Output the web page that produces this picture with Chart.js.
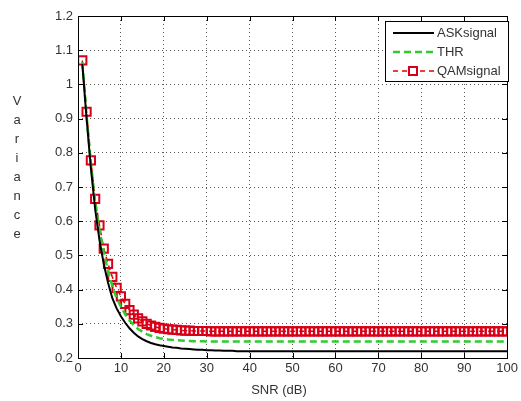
<!DOCTYPE html>
<html>
<head>
<meta charset="utf-8">
<script src="https://cdn.jsdelivr.net/npm/chart.js@4/dist/chart.umd.min.js"></script>
<style>
  html, body { margin: 0; padding: 0; background: #fff; }
  #wrap { width: 521px; height: 401px; position: relative; }
</style>
</head>
<body>
<div id="wrap"><canvas id="varChart"></canvas></div>
<script>
// SNR in dB, one sample per dB
const snr = [
    1, 2, 3, 4, 5, 6, 7, 8, 9, 10,
    11, 12, 13, 14, 15, 16, 17, 18, 19, 20,
    21, 22, 23, 24, 25, 26, 27, 28, 29, 30,
    31, 32, 33, 34, 35, 36, 37, 38, 39, 40,
    41, 42, 43, 44, 45, 46, 47, 48, 49, 50,
    51, 52, 53, 54, 55, 56, 57, 58, 59, 60,
    61, 62, 63, 64, 65, 66, 67, 68, 69, 70,
    71, 72, 73, 74, 75, 76, 77, 78, 79, 80,
    81, 82, 83, 84, 85, 86, 87, 88, 89, 90,
    91, 92, 93, 94, 95, 96, 97, 98, 99, 100
];

const askSignal = [
    1.06, 0.90, 0.755, 0.635, 0.545, 0.475, 0.42, 0.375, 0.345, 0.322,
    0.303, 0.287, 0.274, 0.263, 0.255, 0.249, 0.244, 0.24, 0.237, 0.235,
    0.233, 0.231, 0.23, 0.228, 0.227, 0.226, 0.225, 0.224, 0.224, 0.223,
    0.223, 0.222, 0.222, 0.221, 0.221, 0.221, 0.22, 0.22, 0.22, 0.22,
    0.22, 0.22, 0.22, 0.22, 0.22, 0.22, 0.22, 0.22, 0.22, 0.22,
    0.22, 0.22, 0.22, 0.22, 0.22, 0.22, 0.22, 0.22, 0.22, 0.22,
    0.22, 0.22, 0.22, 0.22, 0.22, 0.22, 0.22, 0.22, 0.22, 0.22,
    0.22, 0.22, 0.22, 0.22, 0.22, 0.22, 0.22, 0.22, 0.22, 0.22,
    0.22, 0.22, 0.22, 0.22, 0.22, 0.22, 0.22, 0.22, 0.22, 0.22,
    0.22, 0.22, 0.22, 0.22, 0.22, 0.22, 0.22, 0.22, 0.22, 0.22
];

const thr = [
    1.065, 0.91, 0.77, 0.655, 0.575, 0.51, 0.455, 0.41, 0.375, 0.35,
    0.328, 0.31, 0.296, 0.285, 0.277, 0.27, 0.265, 0.261, 0.258, 0.256,
    0.254, 0.253, 0.252, 0.251, 0.25, 0.25, 0.249, 0.249, 0.249, 0.248,
    0.248, 0.248, 0.248, 0.248, 0.248, 0.248, 0.248, 0.248, 0.248, 0.248,
    0.248, 0.248, 0.248, 0.248, 0.248, 0.248, 0.248, 0.248, 0.248, 0.248,
    0.248, 0.248, 0.248, 0.248, 0.248, 0.248, 0.248, 0.248, 0.248, 0.248,
    0.248, 0.248, 0.248, 0.248, 0.248, 0.248, 0.248, 0.248, 0.248, 0.248,
    0.248, 0.248, 0.248, 0.248, 0.248, 0.248, 0.248, 0.248, 0.248, 0.248,
    0.248, 0.248, 0.248, 0.248, 0.248, 0.248, 0.248, 0.248, 0.248, 0.248,
    0.248, 0.248, 0.248, 0.248, 0.248, 0.248, 0.248, 0.248, 0.248, 0.248
];

const qamSignal = [
    1.07, 0.92, 0.778, 0.665, 0.588, 0.52, 0.475, 0.437, 0.405, 0.38,
    0.358, 0.34, 0.327, 0.316, 0.307, 0.3, 0.295, 0.291, 0.288, 0.286,
    0.284, 0.283, 0.282, 0.281, 0.28, 0.28, 0.279, 0.279, 0.279, 0.279,
    0.278, 0.278, 0.278, 0.278, 0.278, 0.278, 0.278, 0.278, 0.278, 0.278,
    0.278, 0.278, 0.278, 0.278, 0.278, 0.278, 0.278, 0.278, 0.278, 0.278,
    0.278, 0.278, 0.278, 0.278, 0.278, 0.278, 0.278, 0.278, 0.278, 0.278,
    0.278, 0.278, 0.278, 0.278, 0.278, 0.278, 0.278, 0.278, 0.278, 0.278,
    0.278, 0.278, 0.278, 0.278, 0.278, 0.278, 0.278, 0.278, 0.278, 0.278,
    0.278, 0.278, 0.278, 0.278, 0.278, 0.278, 0.278, 0.278, 0.278, 0.278,
    0.278, 0.278, 0.278, 0.278, 0.278, 0.278, 0.278, 0.278, 0.278, 0.278
];

const seriesLabels = ['ASKsignal', 'THR', 'QAMsignal'];
const yTitle = 'Variance';
const xTitle = 'SNR (dB)';

const FONT = '"Liberation Sans", Arial, sans-serif';
const TEXT = '#333';

const toPoints = (ys) => snr.map((x, i) => ({ x: x, y: ys[i] }));

// matlab style box with inward ticks
const boxPlugin = {
    id: 'box',
    afterDraw(chart) {
        const { ctx, chartArea: a, scales } = chart;
        ctx.save();
        ctx.strokeStyle = '#000';
        ctx.lineWidth = 1;
        ctx.strokeRect(Math.round(a.left) + 0.5, Math.round(a.top) + 0.5,
            Math.round(a.right - a.left), Math.round(a.bottom - a.top));
        ctx.beginPath();
        scales.x.ticks.forEach(t => {
            const px = Math.round(scales.x.getPixelForValue(t.value)) + 0.5;
            ctx.moveTo(px, a.bottom); ctx.lineTo(px, a.bottom - 5);
            ctx.moveTo(px, a.top); ctx.lineTo(px, a.top + 5);
        });
        scales.y.ticks.forEach(t => {
            const py = Math.round(scales.y.getPixelForValue(t.value)) + 0.5;
            ctx.moveTo(a.left, py); ctx.lineTo(a.left + 5, py);
            ctx.moveTo(a.right, py); ctx.lineTo(a.right - 5, py);
        });
        ctx.stroke();

        // axis titles
        ctx.fillStyle = TEXT;
        ctx.font = '13px ' + FONT;
        ctx.textAlign = 'center';
        ctx.textBaseline = 'middle';
        ctx.fillText(xTitle, 279, 390);
        yTitle.split('').forEach((ch, i) => {
            ctx.fillText(ch, 17, 101 + i * 19);
        });

        // legend
        const lx = 385.5, ly = 21.5, lw = 123, lh = 60;
        ctx.fillStyle = '#fff';
        ctx.fillRect(lx, ly, lw, lh);
        ctx.strokeStyle = '#000';
        ctx.strokeRect(lx, ly, lw, lh);
        chart.data.datasets.forEach((ds, i) => {
            const yy = 33 + i * 19;
            ctx.save();
            ctx.strokeStyle = ds.borderColor;
            ctx.lineWidth = ds.borderWidth;
            ctx.setLineDash(ds.borderDash || []);
            ctx.beginPath();
            ctx.moveTo(393, yy); ctx.lineTo(434, yy);
            ctx.stroke();
            if (ds.pointRadius > 0) {
                ctx.setLineDash([]);
                ctx.strokeStyle = ds.pointBorderColor;
                ctx.lineWidth = ds.pointBorderWidth;
                ctx.fillStyle = '#fff';
                ctx.fillRect(409, yy - 4, 8, 8);
                ctx.strokeRect(409, yy - 4, 8, 8);
            }
            ctx.restore();
            ctx.fillStyle = TEXT;
            ctx.textAlign = 'left';
            ctx.fillText(ds.label, 437, yy);
        });
        ctx.restore();
    }
};

new Chart(document.getElementById('varChart'), {
    type: 'line',
    data: {
        datasets: [
            {
                label: seriesLabels[0],
                data: toPoints(askSignal),
                borderColor: '#000',
                borderWidth: 2,
                pointRadius: 0
            },
            {
                label: seriesLabels[1],
                data: toPoints(thr),
                borderColor: '#2ecc2e',
                borderWidth: 2.5,
                borderDash: [7, 4],
                pointRadius: 0
            },
            {
                label: seriesLabels[2],
                data: toPoints(qamSignal),
                borderColor: '#e00000',
                borderWidth: 1.5,
                borderDash: [5, 4],
                pointStyle: 'rect',
                pointRadius: 5.8,
                pointBorderColor: '#d80018',
                pointBorderWidth: 2,
                pointBackgroundColor: 'rgba(0,0,0,0)'
            }
        ]
    },
    options: {
        responsive: true,
        maintainAspectRatio: false,
        animation: false,
        tension: 0,
        layout: { padding: { top: 16, right: 8, left: 0, bottom: 0 } },
        plugins: {
            legend: { display: false },
            tooltip: { enabled: false }
        },
        scales: {
            x: {
                type: 'linear',
                min: 0,
                max: 100,
                afterFit: (s) => { s.height = 43; },
                ticks: {
                    stepSize: 10,
                    padding: 3,
                    color: TEXT,
                    font: { family: FONT, size: 13 }
                },
                grid: { color: '#555', lineWidth: 1, drawTicks: false },
                border: { display: false, dash: [1, 3] }
            },
            y: {
                min: 0.2,
                max: 1.2,
                afterFit: (s) => { s.width = 78; },
                ticks: {
                    stepSize: 0.1,
                    padding: 5,
                    color: TEXT,
                    font: { family: FONT, size: 13 },
                    callback: (v) => String(Number(v.toFixed(1)))
                },
                grid: { color: '#555', lineWidth: 1, drawTicks: false },
                border: { display: false, dash: [1, 3] }
            }
        }
    },
    plugins: [boxPlugin]
});
</script>
</body>
</html>
